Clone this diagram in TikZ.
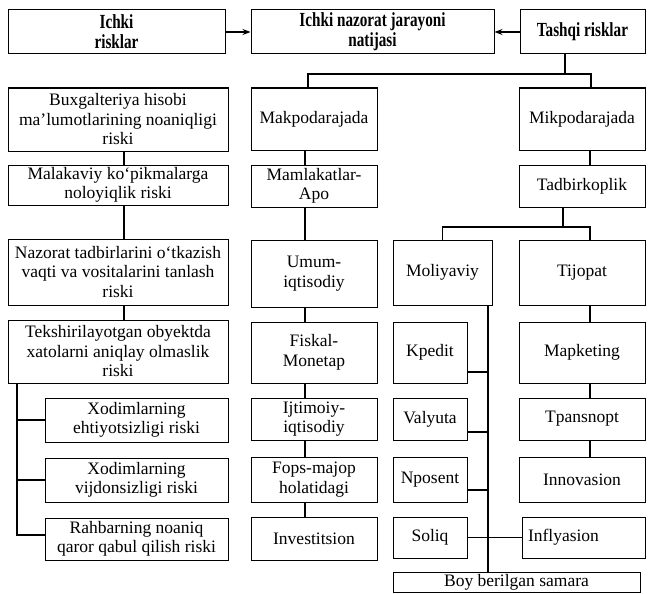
\documentclass[tikz,border=0pt]{standalone}
\usepackage{fontspec}
\setmainfont{Liberation Serif}
\newfontfamily\headfont{Liberation Serif}[FakeStretch=0.76]
\usepackage{tikz}
\usetikzlibrary{arrows.meta}

\begin{document}
\begin{tikzpicture}[%
        >={Stealth[length=8pt,width=6pt]},
        x=1pt, y=-1pt,
        box/.style={draw, line width=1pt, align=center, inner sep=2pt,
                    font=\fontsize{17.5}{19.5}\selectfont},
        head/.style={box, font=\headfont\bfseries\fontsize{20}{20}\selectfont},
        link/.style={line width=1.2pt}
        ]
        \useasboundingbox (0,0) rectangle (648,594);

        % top row
        \node[head, minimum width=217pt, minimum height=44pt] (ichki) at (116.5,32) {Ichki\\risklar};
        \node[head, minimum width=243pt, minimum height=44pt] (natija) at (372.5,32) {Ichki nazorat jarayoni\\natijasi};
        \node[head, minimum width=125pt, minimum height=44pt] (tashqi) at (582.5,32) {Tashqi risklar};

        % ichki risklar
        \node[box, minimum width=220pt, minimum height=63pt] (buxg) at (118,119.5) {Buxgalteriya hisobi\\ma’lumotlarining noaniqligi\\riski};
        \node[box, minimum width=220pt, minimum height=40pt] (malak) at (118,185) {Malakaviy ko‘pikmalarga\\noloyiqlik riski};
        \node[box, minimum width=220pt, minimum height=66pt] (tadbir) at (118,272) {Nazorat tadbirlarini o‘tkazish\\vaqti va vositalarini tanlash\\riski};
        \node[box, minimum width=220pt, minimum height=63pt] (tekshir) at (118,351.5) {Tekshirilayotgan obyektda\\xatolarni aniqlay olmaslik\\riski};
        \node[box, minimum width=183pt, minimum height=44pt] (ehtiyot) at (136.5,420) {Xodimlarning\\ehtiyotsizligi riski};
        \node[box, minimum width=183pt, minimum height=44pt] (vijdon) at (136.5,480) {Xodimlarning\\vijdonsizligi riski};
        \node[box, minimum width=183pt, minimum height=42pt] (rahbar) at (136.5,539) {Rahbarning noaniq\\qaror qabul qilish riski};

        % makro
        \node[box, minimum width=126pt, minimum height=62pt] (makro) at (314,119) {Makpodarajada};
        \node[box, minimum width=126pt, minimum height=42pt] (mamlakat) at (314,186) {Mamlakatlar-\\Apo};
        \node[box, minimum width=126pt, minimum height=67pt] (umum) at (314,273.5) {Umum-\\iqtisodiy};
        \node[box, minimum width=126pt, minimum height=61pt] (fiskal) at (314,352.5) {Fiskal-\\Monetap};
        \node[box, minimum width=126pt, minimum height=42pt] (ijtimoiy) at (314,419) {Ijtimoiy-\\iqtisodiy};
        \node[box, minimum width=126pt, minimum height=45pt] (fors) at (314,479.5) {Fops-majop\\holatidagi};
        \node[box, minimum width=126pt, minimum height=43pt] (invest) at (314,538.5) {Investitsion};

        % mikro
        \node[box, minimum width=126pt, minimum height=62pt] (mikro) at (582,119) {Mikpodarajada};
        \node[box, minimum width=126pt, minimum height=42pt] (tadbirkor) at (582,186) {Tadbirkoplik};
        \node[box, minimum width=99pt, minimum height=65pt] (moliya) at (442.5,272.5) {Moliyaviy};
        \node[box, minimum width=126pt, minimum height=65pt] (tijorat) at (582,272.5) {Tijopat};
        \node[box, minimum width=74pt, minimum height=61pt] (kredit) at (430,352.5) {Kpedit};
        \node[box, minimum width=74pt, minimum height=42pt] (valyuta) at (430,419) {Valyuta};
        \node[box, minimum width=74pt, minimum height=45pt] (foiz) at (430,479.5) {Nposent};
        \node[box, minimum width=74pt, minimum height=41pt] (soliq) at (430,537.5) {Soliq};
        \node[box, minimum width=126pt, minimum height=61pt] (marketing) at (582,352.5) {Mapketing};
        \node[box, minimum width=126pt, minimum height=42pt] (transport) at (582,419) {Tpansnopt};
        \node[box, minimum width=126pt, minimum height=45pt] (innov) at (582,479.5) {Innovasion};
        \node[box, minimum height=41pt, text width=111pt, inner sep=6pt, align=left] (inflyats) at (583.5,537.5) {Inflyasion};
        \node[box, minimum width=247pt, minimum height=20pt, inner sep=1pt] (boy) at (516.5,582) {Boy berilgan samara};

        % arrows
        \draw[link,->] (ichki) -- (natija);
        \draw[link,->] (tashqi) -- (natija);

        \coordinate (tq) at (565,74);
        \coordinate (mk) at (308,74);
        \coordinate (mi) at (591,74);
        \draw[link] (tashqi.south -| tq) -- (tq);
        \draw[link] (makro.north -| mk) |- (mi) -- (mikro.north -| mi);

        % left chain
        \coordinate (lc) at (124,0);
        \draw[link] (buxg.south -| lc) -- (malak.north -| lc);
        \draw[link] (malak.south -| lc) -- (tadbir.north -| lc);
        \draw[link] (tadbir.south -| lc) -- (tekshir.north -| lc);
        \coordinate (lt) at (17,535);
        \draw[link] (tekshir.south -| lt) -- (lt) -- (lt -| rahbar.west);
        \draw[link] (ehtiyot.west) -- (ehtiyot.west -| lt);
        \draw[link] (vijdon.west) -- (vijdon.west -| lt);

        % middle chain
        \coordinate (mc) at (305,0);
        \draw[link] (makro.south -| mc) -- (mamlakat.north -| mc);
        \draw[link] (mamlakat.south -| mc) -- (umum.north -| mc);
        \draw[link] (umum.south -| mc) -- (fiskal.north -| mc);
        \draw[link] (fiskal.south -| mc) -- (ijtimoiy.north -| mc);
        \draw[link] (ijtimoiy.south -| mc) -- (fors.north -| mc);
        \draw[link] (fors.south -| mc) -- (invest.north -| mc);

        % right side
        \coordinate (tj) at (590,227);
        \coordinate (tb) at (563,227);
        \draw[link] (mikro.south -| tj) -- (tadbirkor.north -| tj);
        \draw[link] (tadbirkor.south -| tb) -- (tb);
        \draw[link] (moliya.north) |- (tj) -- (tijorat.north -| tj);
        \draw[link] (tijorat.south -| tj) -- (marketing.north -| tj);
        \draw[link] (marketing.south -| tj) -- (transport.north -| tj);
        \draw[link] (transport.south -| tj) -- (innov.north -| tj);

        % moliyaviy trunk
        \coordinate (mt) at (488,0);
        \coordinate (kr) at (488,372);
        \coordinate (va) at (488,432);
        \coordinate (fz) at (488,490);
        \draw[link] (moliya.south -| mt) -- (boy.north -| mt);
        \draw[link] (kr -| kredit.east) -- (kr);
        \draw[link] (va -| valyuta.east) -- (va);
        \draw[link] (fz -| foiz.east) -- (fz);
        \draw[link] (soliq) -- (inflyats);
\end{tikzpicture}
\end{document}
